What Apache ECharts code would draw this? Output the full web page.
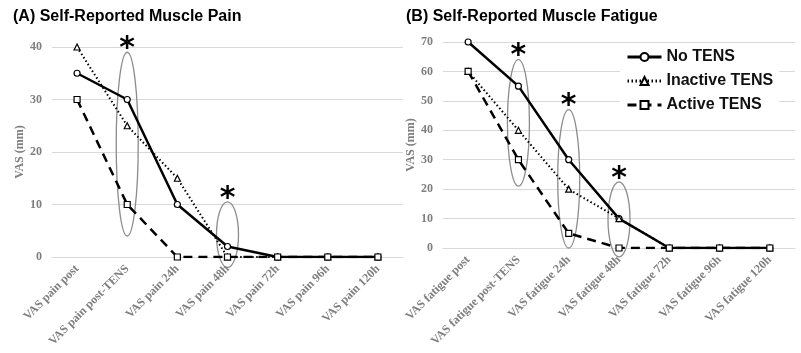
<!DOCTYPE html>
<html>
<head>
<meta charset="utf-8">
<script src="https://cdn.jsdelivr.net/npm/echarts@6/dist/echarts.min.js"></script>
<style>
  html, body { margin: 0; padding: 0; background: #fff; }
  #chart { width: 801px; height: 353px; }
</style>
</head>
<body>
<div id="chart"></div>
<script>
const painCategories = ['VAS pain post', 'VAS pain post-TENS', 'VAS pain 24h', 'VAS pain 48h', 'VAS pain 72h', 'VAS pain 96h', 'VAS pain 120h']
const fatigueCategories = ['VAS fatigue post', 'VAS fatigue post-TENS', 'VAS fatigue 24h', 'VAS fatigue 48h', 'VAS fatigue 72h', 'VAS fatigue 96h', 'VAS fatigue 120h']

const painNoTens = [35, 30, 10, 2, 0, 0, 0]
const painInactive = [40, 25, 15, 0, 0, 0, 0]
const painActive = [30, 10, 0, 0, 0, 0, 0]

const fatigueNoTens = [70, 55, 30, 10, 0, 0, 0]
const fatigueInactive = [60, 40, 20, 10, 0, 0, 0]
const fatigueActive = [60, 30, 5, 0, 0, 0, 0]

// significance marks: [category index, ellipse bottom, ellipse top]
const painMarks = [[1, 4, 39], [3, -2, 10.5]]
const fatigueMarks = [[1, 21, 64], [2, 0, 47], [3, -3, 22.5]]

const seriesNames = ['No TENS', 'Inactive TENS', 'Active TENS']

const serif = '"Liberation Serif", "Times New Roman", serif'
const sans = '"Liberation Sans", Arial, sans-serif'
const gray = '#7f7f7f'

const lineStyles = [
  { type: 'solid', width: 2.5 },
  { type: [1.5, 2.5], width: 2 },
  { type: [9, 6], width: 2.5 }
]
const symbols = ['circle', 'triangle', 'rect']

const makeLine = (name, idx, data, axisIdx) => ({
  name,
  type: 'line',
  xAxisIndex: axisIdx,
  yAxisIndex: axisIdx,
  data,
  symbol: symbols[idx],
  symbolSize: 6,
  showAllSymbol: true,
  z: 3 + idx,
  lineStyle: { color: '#000', ...lineStyles[idx] },
  itemStyle: { color: '#fff', borderColor: '#000', borderWidth: 1.2 }
})

const renderMark = (params, api) => {
  const bottom = api.coord([api.value(0), api.value(1)])
  const top = api.coord([api.value(0), api.value(2)])
  const cx = top[0]
  const cy = (top[1] + bottom[1]) / 2
  const ry = (bottom[1] - top[1]) / 2
  return {
    type: 'group',
    children: [
      {
        type: 'ellipse',
        shape: { cx, cy, rx: 11, ry },
        style: { fill: 'none', stroke: '#8c8c8c', lineWidth: 1.3 }
      },
      {
        type: 'text',
        style: {
          text: '*',
          x: cx,
          y: top[1] - 3,
          align: 'center',
          verticalAlign: 'middle',
          fontSize: 30,
          fontWeight: 'bold',
          fontFamily: '"DejaVu Sans", sans-serif',
          fill: '#000'
        }
      }
    ]
  }
}

const makeMarks = (data, axisIdx) => ({
  type: 'custom',
  xAxisIndex: axisIdx,
  yAxisIndex: axisIdx,
  data,
  encode: { x: 0, y: [1, 2] },
  renderItem: renderMark,
  clip: false,
  silent: true,
  z: 2
})

const xAxisConf = (data, gridIndex) => ({
  type: 'category',
  gridIndex,
  data,
  boundaryGap: true,
  axisLine: { show: true, lineStyle: { color: '#d9d9d9' } },
  axisTick: { show: false },
  axisLabel: {
    interval: 0,
    rotate: 45,
    margin: 10,
    color: gray,
    fontFamily: serif,
    fontWeight: 'bold',
    fontSize: 12
  }
})

const yAxisConf = (max, gridIndex) => ({
  type: 'value',
  gridIndex,
  min: 0,
  max,
  interval: 10,
  name: 'VAS (mm)',
  nameLocation: 'middle',
  nameGap: 24,
  nameTextStyle: { color: gray, fontFamily: serif, fontWeight: 'bold', fontSize: 12 },
  axisLine: { show: false },
  axisTick: { show: false },
  axisLabel: { color: gray, fontFamily: serif, fontWeight: 'bold', fontSize: 12, margin: 10 },
  splitLine: { lineStyle: { color: '#d9d9d9', width: 1 } }
})

const chart = echarts.init(document.getElementById('chart'))
chart.setOption({
  backgroundColor: '#fff',
  animation: false,
  title: [
    { text: '(A) Self-Reported Muscle Pain', left: 8, top: 4, textStyle: { fontFamily: sans, fontSize: 16, fontWeight: 'bold', color: '#000' } },
    { text: '(B) Self-Reported Muscle Fatigue', left: 401, top: 4, textStyle: { fontFamily: sans, fontSize: 16, fontWeight: 'bold', color: '#000' } }
  ],
  legend: {
    data: seriesNames,
    orient: 'vertical',
    left: 620,
    top: 45,
    itemWidth: 34,
    itemHeight: 10,
    itemGap: 8,
    backgroundColor: '#fff',
    padding: [4, 6, 4, 6],
    textStyle: { fontFamily: sans, fontSize: 16, fontWeight: 'bold', color: '#111' },
    lineStyle: { width: 3 }
  },
  grid: [
    { left: 52, width: 351, top: 47, bottom: 96 },
    { left: 443, width: 352, top: 42, bottom: 105 }
  ],
  xAxis: [xAxisConf(painCategories, 0), xAxisConf(fatigueCategories, 1)],
  yAxis: [yAxisConf(40, 0), yAxisConf(70, 1)],
  series: [
    makeMarks(painMarks, 0),
    makeMarks(fatigueMarks, 1),
    makeLine(seriesNames[0], 0, painNoTens, 0),
    makeLine(seriesNames[1], 1, painInactive, 0),
    makeLine(seriesNames[2], 2, painActive, 0),
    makeLine(seriesNames[0], 0, fatigueNoTens, 1),
    makeLine(seriesNames[1], 1, fatigueInactive, 1),
    makeLine(seriesNames[2], 2, fatigueActive, 1)
  ]
})
</script>
</body>
</html>
